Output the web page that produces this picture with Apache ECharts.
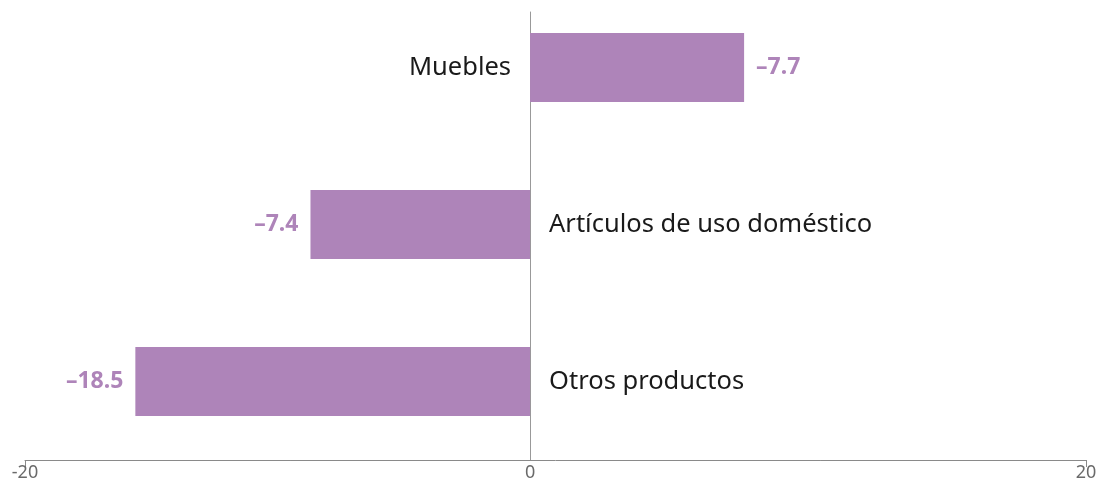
<!DOCTYPE html>
<html>
<head>
<meta charset="utf-8">
<script src="https://cdn.jsdelivr.net/npm/echarts@6/dist/echarts.min.js"></script>
<style>
  html, body { margin: 0; padding: 0; background: #fff; }
  #chart { width: 1097px; height: 485px; }
</style>
</head>
<body>
<div id="chart"></div>
<script>
// datos del gráfico
var categories = ['Muebles', 'Artículos de uso doméstico', 'Otros productos'];
var barValues = [7.7, -7.9, -14.2];          // longitud de las barras
var valueLabels = ['–7.7', '–7.4', '–18.5']; // etiquetas tal como aparecen
var tickValues = [-18.17, 0, 20];
var tickLabels = ['-20', '0', '20'];

var purple = '#ae84b9';
var chart = echarts.init(document.getElementById('chart'));

var option = {
    animation: false,
    grid: [
        { left: 25, right: 11, top: -11, bottom: 25, outerBoundsMode: 'none' },
        { left: 25, right: 11, top: 12, bottom: 25, outerBoundsMode: 'none' }
    ],
    xAxis: [
        {
            gridIndex: 0,
            type: 'value',
            min: tickValues[0],
            max: tickValues[2],
            splitLine: { show: false },
            axisLine: { show: true, onZero: false, lineStyle: { color: '#8a8a8a', width: 1 } },
            axisTick: {
                show: true, length: 7, customValues: [tickValues[0], tickValues[2]],
                lineStyle: { color: '#8a8a8a' }
            },
            axisLabel: {
                customValues: tickValues,
                color: '#6a6a6a',
                fontFamily: 'Noto Sans',
                fontSize: 18,
                margin: 4,
                formatter: function (v) {
                    return tickLabels[tickValues.indexOf(v)];
                }
            }
        },
        {
            gridIndex: 1,
            type: 'value',
            min: tickValues[0],
            max: tickValues[2],
            show: false
        }
    ],
    yAxis: [
        {
            gridIndex: 0,
            type: 'category',
            inverse: true,
            data: categories,
            axisLine: { show: false },
            axisTick: { show: false },
            axisLabel: { show: false }
        },
        {
            // línea del cero
            gridIndex: 1,
            type: 'value',
            splitLine: { show: false },
            axisTick: { show: false },
            axisLabel: { show: false },
            axisLine: { show: true, onZero: true, lineStyle: { color: '#999', width: 1 } }
        }
    ],
    series: [
        {
            type: 'bar',
            xAxisIndex: 0,
            yAxisIndex: 0,
            barWidth: 69,
            itemStyle: { color: purple },
            data: barValues.map(function (v) {
                return { value: v, label: { position: v >= 0 ? 'left' : 'right' } };
            }),
            label: {
                show: true,
                distance: 19,
                color: '#1a1a1a',
                fontFamily: 'Noto Sans',
                fontSize: 25.5,
                formatter: function (p) { return categories[p.dataIndex]; }
            }
        },
        {
            type: 'bar',
            xAxisIndex: 0,
            yAxisIndex: 0,
            barWidth: 69,
            barGap: '-100%',
            itemStyle: { color: 'rgba(0,0,0,0)' },
            data: barValues.map(function (v) {
                return { value: v, label: { position: v >= 0 ? 'right' : 'left' } };
            }),
            label: {
                show: true,
                distance: 12,
                color: purple,
                fontFamily: 'Noto Sans',
                fontWeight: 'bold',
                fontSize: 23,
                formatter: function (p) { return valueLabels[p.dataIndex]; }
            }
        }
    ]
};

chart.setOption(option);
</script>
</body>
</html>
